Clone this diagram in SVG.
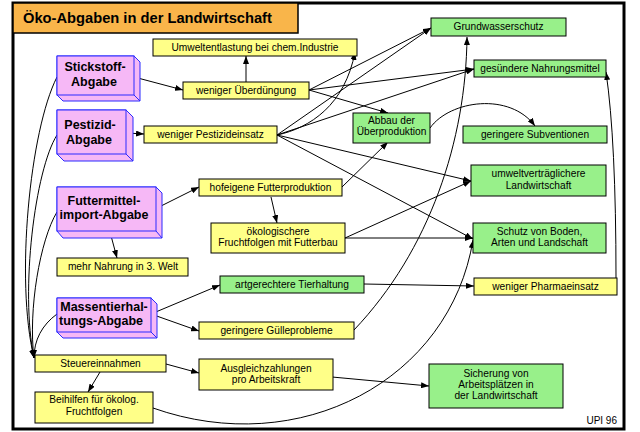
<svg xmlns="http://www.w3.org/2000/svg" width="640" height="432" viewBox="0 0 640 432">
<defs>
<marker id="ah" viewBox="0 0 8 6" refX="8" refY="3" markerWidth="8" markerHeight="6" markerUnits="userSpaceOnUse" orient="auto">
<path d="M0,0 L8,3 L0,6 Z" fill="#000"/>
</marker>
<style>
.y{fill:#ffff88;stroke:#000;stroke-width:1}
.g{fill:#98f08a;stroke:#000;stroke-width:1}
.p{fill:#f6b8f6;stroke:#2a2aff;stroke-width:1}
.t{font-family:"Liberation Sans",Arial,sans-serif;font-size:10.2px;fill:#000;text-anchor:middle}
.b{font-family:"Liberation Sans",Arial,sans-serif;font-size:12.5px;font-weight:bold;fill:#000;text-anchor:middle}
.c{fill:none;stroke:#000;stroke-width:1;marker-end:url(#ah)}
</style>
</defs>
<rect x="0" y="0" width="640" height="432" fill="#fff"/>
<rect x="13" y="3" width="611" height="426" fill="#fff" stroke="#000" stroke-width="3"/>
<g id="title">
<rect x="13" y="3" width="285" height="30" fill="#f9b54a" stroke="#000" stroke-width="1.5"/>
<text x="23" y="23" font-family="Liberation Sans,Arial,sans-serif" font-size="14.7" font-weight="bold" fill="#000">Öko-Abgaben in der Landwirtschaft</text>
</g>
<g id="connectors">
<path class="c" d="M134,77 L183,90"/>
<path class="c" d="M246,82 L246,56"/>
<path class="c" d="M127,133 L144,134"/>
<path class="c" d="M309,90 L431,28"/>
<path class="c" d="M309,90 L474,69"/>
<path class="c" d="M309,90 L388,113"/>
<path class="c" d="M277,135 L431,28"/>
<path class="c" d="M277,135 L474,69"/>
<path class="c" d="M277,135 C310,128 345,105 355,52"/>
<path class="c" d="M277,135 L471,181"/>
<path class="c" d="M277,135 L473,239"/>
<path class="c" d="M430,128 C450,100 510,92 535,126"/>
<path class="c" d="M342,187 L388,142"/>
<path class="c" d="M271,197 L277,223"/>
<path class="c" d="M157,208 L199,187"/>
<path class="c" d="M110,232 L117,258"/>
<path class="c" d="M345,238 L471,181"/>
<path class="c" d="M345,238 L473,238"/>
<path class="c" d="M151,314 L220,285"/>
<path class="c" d="M151,314 L199,331"/>
<path class="c" d="M364,284 L474,286"/>
<path class="c" d="M354,330 C430,250 466,140 467,37"/>
<path class="c" d="M616,278 Q616,140 606,72"/>
<path class="c" d="M166,364 L199,373"/>
<path class="c" d="M100,372 L88,392"/>
<path class="c" d="M332,377 L429,386"/>
<path class="c" d="M153,408 C300,460 450,380 473,240"/>
<path class="c" d="M57,77 C30,130 15,280 34,358"/>
<path class="c" d="M57,135 C35,170 20,290 34,358"/>
<path class="c" d="M57,212 C40,240 28,310 34,358"/>
<path class="c" d="M57,314 C42,325 34,340 34,358"/>
</g>
<g id="stickstoff">
<path class="p" d="M57,56 H134 L140,62 V101 H63 L57,95 Z"/>
<rect class="p" x="57" y="56" width="77" height="39"/>
<path d="M134,95 L140,101" stroke="#2a2aff" fill="none"/>
<text class="b" x="95" y="71">Stickstoff-</text>
<text class="b" x="94" y="86">Abgabe</text>
</g>
<g id="pestizid">
<path class="p" d="M57,110 H126 L133,117 V161 H64 L57,154 Z"/>
<rect class="p" x="57" y="110" width="69" height="44"/>
<path d="M126,154 L133,161" stroke="#2a2aff" fill="none"/>
<text class="b" x="90" y="129">Pestizid-</text>
<text class="b" x="89" y="144">Abgabe</text>
</g>
<g id="futtermittel">
<path class="p" d="M57,187 H156 L162,193 V238 H63 L57,231 Z"/>
<rect class="p" x="57" y="187" width="99" height="44"/>
<path d="M156,231 L162,238" stroke="#2a2aff" fill="none"/>
<text class="b" x="104" y="205">Futtermittel-</text>
<text class="b" x="104" y="219">import-Abgabe</text>
</g>
<g id="massentier">
<path class="p" d="M57,298 H151 L157,304 V338 H63 L57,332 Z"/>
<rect class="p" x="57" y="298" width="94" height="34"/>
<path d="M151,332 L157,338" stroke="#2a2aff" fill="none"/>
<text class="b" x="104" y="311">Massentierhal-</text>
<text class="b" x="101" y="325">tungs-Abgabe</text>
</g>
<g id="umweltentlastung"><rect class="y" x="153" y="39" width="204" height="17"/><text class="t" x="255" y="50.5">Umweltentlastung bei chem.Industrie</text></g>
<g id="ueberduengung"><rect class="y" x="183" y="82" width="126" height="17"/><text class="t" x="246" y="93.5">weniger Überdüngung</text></g>
<g id="pestizideinsatz"><rect class="y" x="144" y="126" width="133" height="17"/><text class="t" x="210.5" y="137.5">weniger Pestizideinsatz</text></g>
<g id="hofeigene"><rect class="y" x="199" y="179" width="143" height="17"/><text class="t" x="270.5" y="190.5">hofeigene Futterproduktion</text></g>
<g id="fruchtfolgen"><rect class="y" x="211" y="223" width="134" height="30"/><text class="t" x="278" y="234.5">ökologischere</text><text class="t" x="278" y="246">Fruchtfolgen mit Futterbau</text></g>
<g id="mehrnahrung"><rect class="y" x="57" y="258" width="131" height="18"/><text class="t" x="123" y="270">mehr Nahrung in 3. Welt</text></g>
<g id="guelle"><rect class="y" x="199" y="322" width="155" height="17"/><text class="t" x="276.5" y="333.5">geringere Gülleprobleme</text></g>
<g id="steuer"><rect class="y" x="35" y="355" width="131" height="17"/><text class="t" x="100.5" y="366.5">Steuereinnahmen</text></g>
<g id="ausgleich"><rect class="y" x="199" y="359" width="134" height="31"/><text class="t" x="266" y="371.5">Ausgleichzahlungen</text><text class="t" x="266" y="382.5">pro Arbeitskraft</text></g>
<g id="beihilfen"><rect class="y" x="35" y="392" width="118" height="31"/><text class="t" x="94" y="403">Beihilfen für ökolog.</text><text class="t" x="94" y="415">Fruchtfolgen</text></g>
<g id="pharma"><rect class="y" x="474" y="278" width="143" height="17"/><text class="t" x="545.5" y="289.5">weniger Pharmaeinsatz</text></g>
<g id="grundwasser"><rect class="g" x="431" y="18" width="135" height="18"/><text class="t" x="498.5" y="29.5">Grundwasserschutz</text></g>
<g id="nahrungsmittel"><rect class="g" x="474" y="60" width="132" height="17"/><text class="t" x="540" y="71.5">gesündere Nahrungsmittel</text></g>
<g id="abbau"><rect class="g" x="353" y="113" width="77" height="30"/><text class="t" x="391.5" y="124">Abbau der</text><text class="t" x="391.5" y="135">Überproduktion</text></g>
<g id="subventionen"><rect class="g" x="463" y="126" width="144" height="17"/><text class="t" x="535" y="137.5">geringere Subventionen</text></g>
<g id="umweltvertraeglich"><rect class="g" x="471" y="165" width="135" height="31"/><text class="t" x="538.5" y="177">umweltverträglichere</text><text class="t" x="538.5" y="188.5">Landwirtschaft</text></g>
<g id="schutz"><rect class="g" x="473" y="223" width="133" height="30"/><text class="t" x="539.5" y="234.5">Schutz von Boden,</text><text class="t" x="539.5" y="246">Arten und Landschaft</text></g>
<g id="artgerecht"><rect class="g" x="220" y="276" width="144" height="17"/><text class="t" x="292" y="287.5">artgerechtere Tierhaltung</text></g>
<g id="sicherung"><rect class="g" x="429" y="364" width="134" height="44"/><text class="t" x="496" y="377">Sicherung von</text><text class="t" x="496" y="387.5">Arbeitsplätzen in</text><text class="t" x="496" y="398.5">der Landwirtschaft</text></g>
<text x="617" y="424" font-family="Liberation Sans,Arial,sans-serif" font-size="10" fill="#000" text-anchor="end">UPI 96</text>
</svg>
